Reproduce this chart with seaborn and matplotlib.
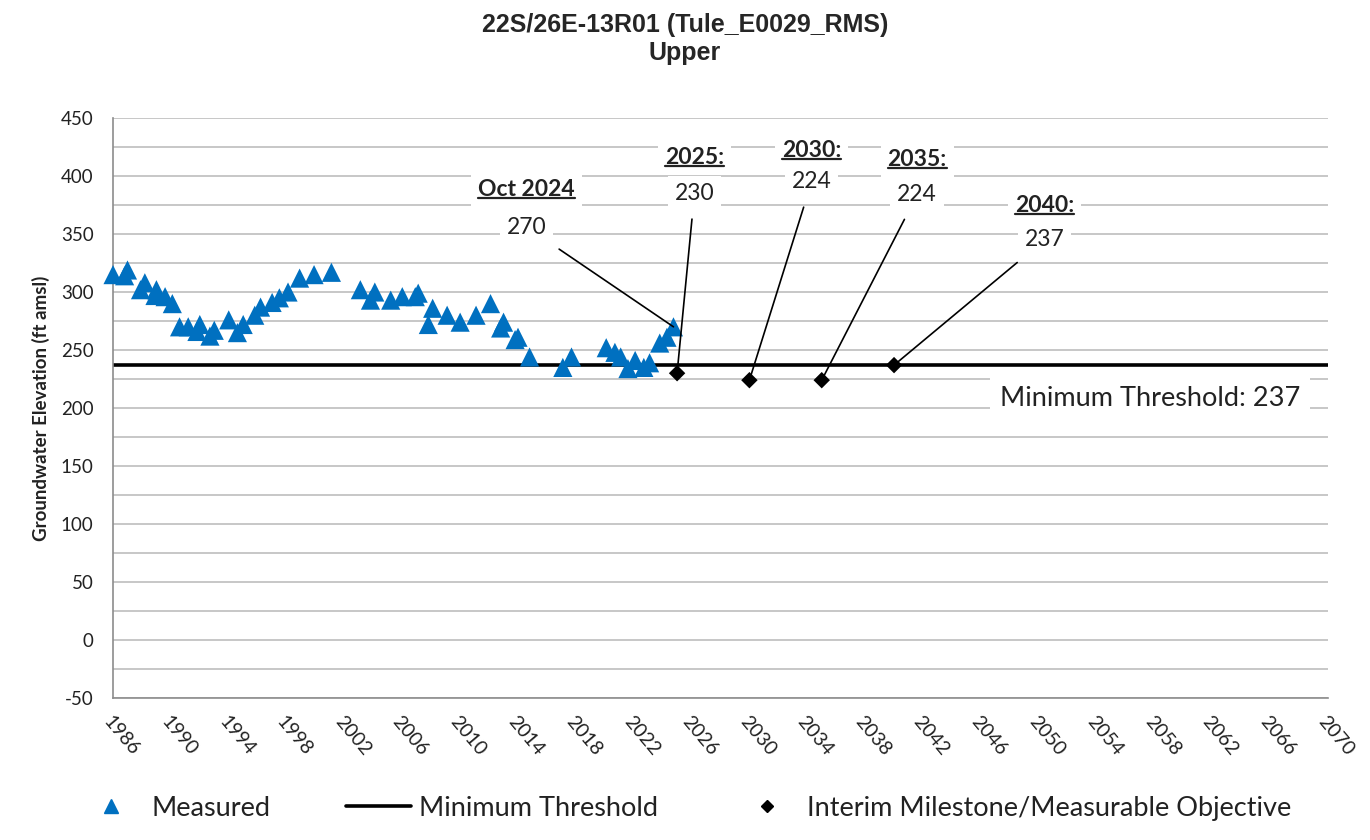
import matplotlib
matplotlib.use("Agg")
import matplotlib.pyplot as plt
import seaborn as sns
import pandas as pd
from matplotlib.lines import Line2D
from matplotlib.ticker import MultipleLocator

# measured groundwater elevations (ft amsl)
years = [1986.0, 1986.8, 1987.0, 1987.9, 1988.2, 1988.9, 1989.0, 1989.6, 1990.1,
         1990.6, 1991.2, 1991.8, 1992.0, 1992.7, 1993.0, 1994.0, 1994.6, 1995.0,
         1995.8, 1996.2, 1997.0, 1997.5, 1998.1, 1998.9, 1999.9, 2001.1,
         2003.1, 2003.8, 2004.1, 2005.2, 2006.0, 2006.9, 2007.1, 2007.8, 2008.1,
         2009.1, 2010.0, 2011.1, 2012.1, 2012.8, 2013.0, 2013.8, 2014.0, 2014.8,
         2017.1, 2017.7, 2020.1, 2020.7, 2021.1, 2021.6, 2022.1, 2022.7, 2023.1,
         2023.8, 2024.3, 2024.75]
levels = [315, 314, 319, 302, 308, 297, 302, 296, 290,
          270, 270, 266, 272, 262, 267, 276, 265, 272,
          280, 287, 291, 295, 300, 312, 315, 317,
          302, 293, 300, 293, 296, 296, 299, 272, 286,
          280, 274, 280, 290, 269, 274, 259, 261, 244,
          235, 244, 252, 248, 244, 234, 241, 235, 239,
          256, 261, 270]

milestone_years = [2025, 2030, 2035, 2040]
milestone_values = [230, 224, 224, 237]
threshold = 237

title = "22S/26E-13R01 (Tule_E0029_RMS)\nUpper"
x_ticks = list(range(1986, 2071, 4))

measured = pd.DataFrame({"year": years, "level": levels})
milestones = pd.DataFrame({"year": milestone_years, "level": milestone_values})

sns.set_style("white")
plt.rcParams['font.family'] = ['Lato', 'DejaVu Sans']
plt.rcParams['axes.unicode_minus'] = False

BLUE = "#0070C0"
GRID = "#b8b8b8"
AXC = "#8c8c8c"
TXT = "#222222"

fig = plt.figure(figsize=(13.7, 8.4), dpi=100)
ax = fig.add_axes([0.0825, 0.169, 0.8868, 0.6905])

ax.set_xlim(1986, 2070)
ax.set_ylim(-50, 450)
ax.yaxis.set_major_locator(MultipleLocator(50))
ax.yaxis.set_minor_locator(MultipleLocator(25))
ax.set_xticks(x_ticks)
ax.grid(axis='y', which='major', color=GRID, lw=1.1)
ax.grid(axis='y', which='minor', color=GRID, lw=1.1)
ax.set_axisbelow(True)

ax.axhline(threshold, color='black', lw=2.6, zorder=2)
sns.scatterplot(data=measured, x="year", y="level", ax=ax, marker='^', s=190,
                color=BLUE, edgecolor='none', zorder=3, clip_on=False, legend=False)
sns.scatterplot(data=milestones, x="year", y="level", ax=ax, marker='D', s=70,
                color='black', edgecolor='none', zorder=4, legend=False)

for side in ['top', 'right']:
    ax.spines[side].set_visible(False)
for side in ['left', 'bottom']:
    ax.spines[side].set_color(AXC)
    ax.spines[side].set_linewidth(1.2)

ax.tick_params(axis='y', which='major', direction='out', length=8, color=AXC,
               labelsize=13.5, pad=6)
ax.tick_params(axis='y', which='minor', length=0)
ax.tick_params(axis='x', direction='out', length=6, color=AXC, labelsize=14, pad=5)
ax.set_xticklabels([str(t) for t in x_ticks], rotation=-50, ha='left', va='top',
                   rotation_mode='anchor')
for lab in ax.get_xticklabels() + ax.get_yticklabels():
    lab.set_color(TXT)

ax.set_xlabel("")
ax.set_ylabel("Groundwater Elevation (ft amsl)", fontsize=13.5, fontweight='bold',
              color=TXT, labelpad=8)

fig.suptitle(title, fontsize=18, fontweight='bold', family='Liberation Sans',
             y=0.985, linespacing=1.25)

# callout labels: (header, value, point, label position)
callouts = [
    ("Oct 2024", "270", (years[-1], levels[-1]), (2014.6, 388, 356)),
    ("2025:", "230", (milestone_years[0], milestone_values[0]), (2026.2, 416, 385)),
    ("2030:", "224", (milestone_years[1], milestone_values[1]), (2034.3, 422, 395)),
    ("2035:", "224", (milestone_years[2], milestone_values[2]), (2041.6, 414, 384)),
    ("2040:", "237", (milestone_years[3], milestone_values[3]), (2050.4, 375, 345)),
]
box = dict(boxstyle='square,pad=0.3', fc='white', ec='none')
headers = []
for head, val, pt, (lx, hy, vy) in callouts:
    t = ax.text(lx, hy, head, ha='center', va='center', fontsize=16.5,
                fontweight='bold', color=TXT, bbox=box, zorder=5)
    headers.append(t)
    ax.annotate(val, xy=pt, xytext=(lx, vy), textcoords='data', ha='center',
                va='center', fontsize=16.5, color=TXT, bbox=box, zorder=6,
                arrowprops=dict(arrowstyle='-', color='black', lw=1.2,
                                shrinkA=6, shrinkB=0))

ax.text(2057.7, 208, f"Minimum Threshold: {threshold}", ha='center', va='center',
        fontsize=19.5, color=TXT, zorder=5,
        bbox=dict(boxstyle='square,pad=0.35', fc='white', ec='none'))

# underline the callout headers
fig.canvas.draw()
renderer = fig.canvas.get_renderer()
inv = fig.transFigure.inverted()
for t in headers:
    bb = t.get_window_extent(renderer)
    (x0, y0), (x1, _) = inv.transform([(bb.x0, bb.y0 + 2), (bb.x1, bb.y0 + 2)])
    fig.add_artist(Line2D([x0, x1], [y0, y0], color=TXT, lw=1.6,
                          transform=fig.transFigure, zorder=7))

handles = [
    Line2D([], [], marker='^', ls='none', color=BLUE, markersize=10),
    Line2D([], [], color='black', lw=2.6),
    Line2D([], [], marker='D', ls='none', color='black', markersize=6),
]
names = ["Measured", "Minimum Threshold", "Interim Milestone/Measurable Objective"]
fig.legend(handles, names, loc='lower center', bbox_to_anchor=(0.5, -0.006),
           ncol=3, frameon=False, fontsize=19.5, handlelength=2.4,
           columnspacing=2.8, handletextpad=0.3, labelcolor=TXT)

fig.savefig("out.png", dpi=100)
